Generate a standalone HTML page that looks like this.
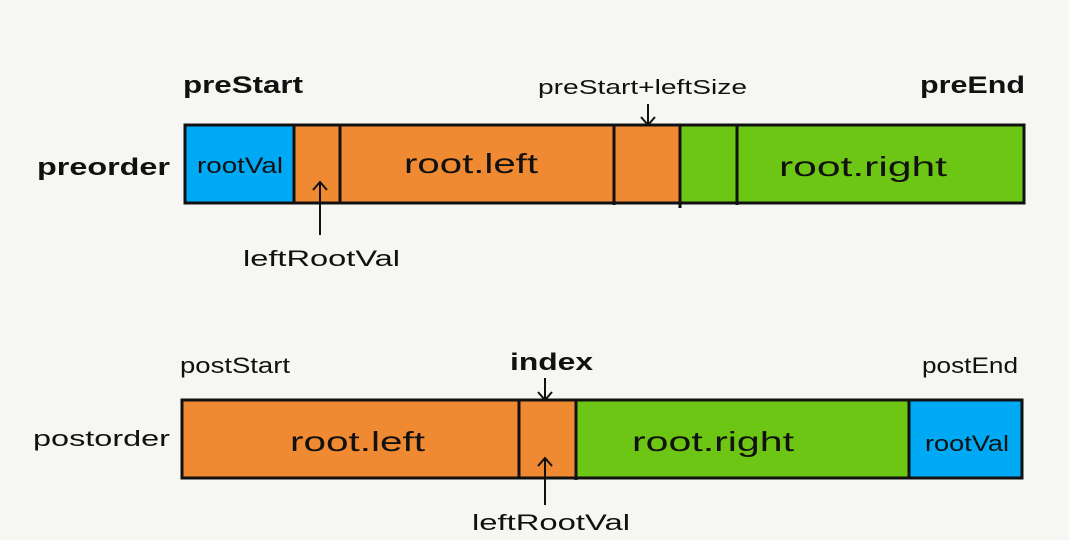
<!DOCTYPE html>
<html><head><style>
html,body{margin:0;padding:0;background:#f6f6f3;}
svg{display:block}
text{font-family:"Liberation Sans",sans-serif;fill:#111;}
</style></head><body>
<svg width="1069" height="540" viewBox="0 0 1069 540">
<rect width="1069" height="540" fill="#f6f6f3"/>
<rect x="185" y="125" width="109" height="78" fill="#00a9f4"/>
<rect x="294" y="125" width="386" height="78" fill="#f08a32"/>
<rect x="680" y="125" width="344" height="78" fill="#6cc613"/>
<rect x="185" y="125" width="839" height="78" fill="none" stroke="#111" stroke-width="3"/>
<g stroke="#111" stroke-width="3">
<line x1="294" y1="125" x2="294" y2="203"/>
<line x1="340" y1="125" x2="340" y2="203"/>
<line x1="614" y1="125" x2="614" y2="205"/>
<line x1="680" y1="125" x2="680" y2="208"/>
<line x1="737" y1="125" x2="737" y2="205"/>
</g>
<g stroke="#111" stroke-width="2" fill="none">
<line x1="320" y1="182" x2="320" y2="235"/><polyline points="313,190 320,182 327,190"/>
<line x1="648" y1="104" x2="648" y2="125"/><polyline points="641,117 648,125 655,117"/>
</g>
<text x="183" y="93" font-size="24" font-weight="bold" textLength="120" lengthAdjust="spacingAndGlyphs">preStart</text>
<text x="920" y="93" font-size="24" font-weight="bold" textLength="105" lengthAdjust="spacingAndGlyphs">preEnd</text>
<text x="538" y="94" font-size="20" textLength="209" lengthAdjust="spacingAndGlyphs">preStart+leftSize</text>
<text x="37" y="175" font-size="24" font-weight="bold" textLength="133" lengthAdjust="spacingAndGlyphs">preorder</text>
<text x="197" y="173" font-size="22" textLength="86" lengthAdjust="spacingAndGlyphs">rootVal</text>
<text x="404" y="173" font-size="28" textLength="134" lengthAdjust="spacingAndGlyphs">root.left</text>
<text x="779" y="176" font-size="28" textLength="168" lengthAdjust="spacingAndGlyphs">root.right</text>
<text x="243" y="266" font-size="22" textLength="157" lengthAdjust="spacingAndGlyphs">leftRootVal</text>
<rect x="182" y="400" width="394" height="78" fill="#f08a32"/>
<rect x="576" y="400" width="333" height="78" fill="#6cc613"/>
<rect x="909" y="400" width="113" height="78" fill="#00a9f4"/>
<rect x="182" y="400" width="840" height="78" fill="none" stroke="#111" stroke-width="3"/>
<g stroke="#111" stroke-width="3">
<line x1="519" y1="400" x2="519" y2="478"/>
<line x1="576" y1="400" x2="576" y2="480"/>
<line x1="909" y1="400" x2="909" y2="478"/>
</g>
<g stroke="#111" stroke-width="2" fill="none">
<line x1="545" y1="458" x2="545" y2="505"/><polyline points="538,466 545,458 552,466"/>
<line x1="545" y1="378" x2="545" y2="400"/><polyline points="538,392 545,400 552,392"/>
</g>
<text x="180" y="373" font-size="22" textLength="110" lengthAdjust="spacingAndGlyphs">postStart</text>
<text x="510" y="370" font-size="24" font-weight="bold" textLength="83" lengthAdjust="spacingAndGlyphs">index</text>
<text x="922" y="373" font-size="22" textLength="96" lengthAdjust="spacingAndGlyphs">postEnd</text>
<text x="33" y="446" font-size="22" textLength="137" lengthAdjust="spacingAndGlyphs">postorder</text>
<text x="290" y="451" font-size="28" textLength="135" lengthAdjust="spacingAndGlyphs">root.left</text>
<text x="632" y="451" font-size="28" textLength="162" lengthAdjust="spacingAndGlyphs">root.right</text>
<text x="925" y="451" font-size="22" textLength="84" lengthAdjust="spacingAndGlyphs">rootVal</text>
<text x="472" y="530" font-size="22" textLength="158" lengthAdjust="spacingAndGlyphs">leftRootVal</text>
</svg>
</body></html>
